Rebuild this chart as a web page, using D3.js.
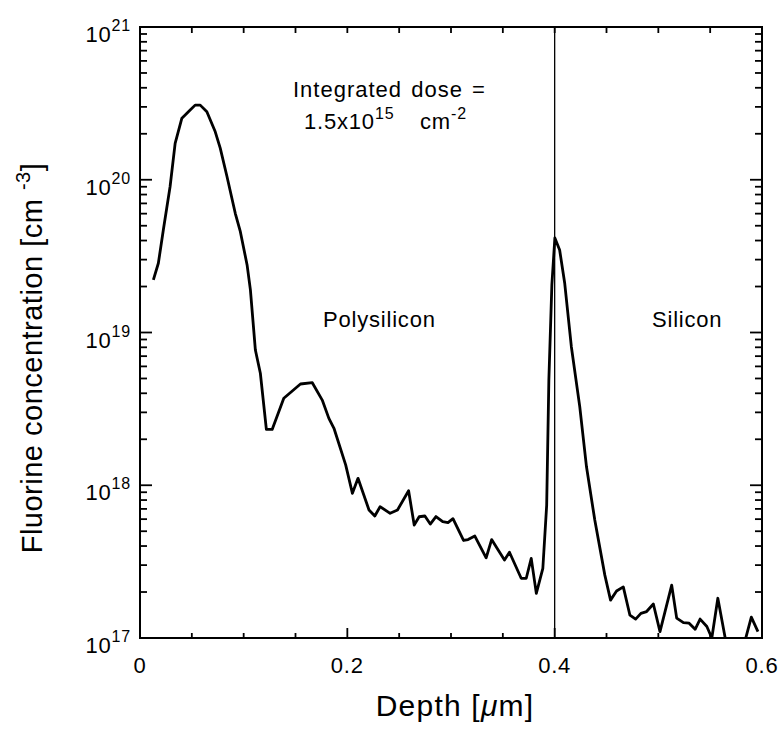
<!DOCTYPE html>
<html>
<head>
<meta charset="utf-8">
<script src="https://cdn.jsdelivr.net/npm/d3@7"></script>
<style>
  body { margin: 0; background: #fff; }
  text { font-family: "Liberation Sans", Arial, Helvetica, sans-serif; fill: #000; }
</style>
</head>
<body>
<svg id="chart" width="783" height="729"></svg>
<script>
// SIMS fluorine depth profile through polysilicon into the silicon substrate
const depth = [
  0.0129,0.0177,0.0225,0.0290,0.0339,0.0404,0.0484,0.0532,0.0581,0.0645,
  0.0726,0.0774,0.0839,0.0919,0.0968,0.1033,0.1065,0.1113,0.1161,0.1219,
  0.1275,0.1387,0.1548,0.1662,0.1758,0.1822,0.1871,0.1984,0.2049,0.2103,
  0.2209,0.2265,0.2316,0.2413,0.2484,0.2591,0.2645,0.2693,0.2748,0.2800,
  0.2855,0.2920,0.2971,0.3019,0.3121,0.3165,0.3230,0.3339,0.3392,0.3455,
  0.3516,0.3564,0.3677,0.3726,0.3774,0.3823,0.3886,0.3923,0.3944,0.3973,
  0.4002,0.4048,0.4097,0.4161,0.4242,0.4307,0.4387,0.4484,0.4539,0.4597,
  0.4662,0.4726,0.4781,0.4832,0.4887,0.4952,0.5016,0.5129,0.5177,0.5242,
  0.5297,0.5355,0.5403,0.5468,0.5516,0.5574,0.5645,0.5710,0.5775,0.5840,
  0.5897,0.5961
];
const concentration = [
  2.21e19,2.84e19,4.69e19,9.0e19,1.73e20,2.53e20,2.86e20,3.08e20,3.08e20,2.79e20,
  2.06e20,1.61e20,1.05e20,6.03e19,4.57e19,2.77e19,1.90e19,7.68e18,5.41e18,2.32e18,
  2.32e18,3.71e18,4.60e18,4.69e18,3.61e18,2.74e18,2.36e18,1.36e18,8.85e17,1.11e18,
  6.89e17,6.29e17,7.24e17,6.55e17,6.89e17,9.21e17,5.49e17,6.22e17,6.29e17,5.57e17,
  6.24e17,5.77e17,5.69e17,6.04e17,4.35e17,4.41e17,4.65e17,3.35e17,4.41e17,3.77e17,
  3.24e17,3.64e17,2.46e17,2.46e17,3.32e17,1.96e17,2.86e17,7.42e17,4.89e18,2.05e19,
  4.16e19,3.47e19,2.10e19,8.07e18,3.27e18,1.32e18,5.92e17,2.58e17,1.77e17,2.03e17,
  2.16e17,1.41e17,1.33e17,1.45e17,1.49e17,1.67e17,1.10e17,2.22e17,1.35e17,1.26e17,
  1.25e17,1.14e17,1.33e17,1.19e17,1.0e17,1.82e17,1.0e17,8.0e16,8.5e16,9.8e16,
  1.37e17,1.10e17
];
const xMajorTicks = [0, 0.2, 0.4, 0.6];
const xMajorLabels = ["0", "0.2", "0.4", "0.6"];
const yDecades = [17, 18, 19, 20, 21];
const interfaceDepth = 0.4;

const plotLeft = 140, plotRight = 762, plotTop = 27, plotBottom = 638;

const svg = d3.select("#chart");
const x = d3.scaleLinear().domain([0, 0.6]).range([plotLeft, plotRight]);
const y = d3.scaleLog().domain([1e17, 1e21]).range([plotBottom, plotTop]);

// tick value sets: every 0.05 along depth, 1..9 per decade along concentration
const xAll = d3.range(1, 12).map(i => +(i * 0.05).toFixed(2));
const yTicks = [];
yDecades.slice(0, -1).forEach(d => {
  for (let m = 1; m <= 9; m++) yTicks.push({ v: m * Math.pow(10, d), major: m === 1 });
});

const ticks = svg.append("g");
function tickStyle(sel) { return sel.attr("stroke", "#000").attr("stroke-width", 1.8); }
// bottom (inward), longer at labelled values
ticks.selectAll("line.xb").data(xAll).join("line").attr("class", "xb")
  .attr("x1", d => x(d)).attr("x2", d => x(d))
  .attr("y1", plotBottom).attr("y2", d => plotBottom - (xMajorTicks.includes(d) ? 10 : 5))
  .call(tickStyle);
// top (inward)
ticks.selectAll("line.xt").data(xAll).join("line").attr("class", "xt")
  .attr("x1", d => x(d)).attr("x2", d => x(d))
  .attr("y1", plotTop).attr("y2", plotTop + 6)
  .call(tickStyle);
// left and right log ticks
ticks.selectAll("line.yl").data(yTicks).join("line").attr("class", "yl")
  .attr("y1", d => y(d.v)).attr("y2", d => y(d.v))
  .attr("x1", plotLeft).attr("x2", d => plotLeft + (d.major ? 12 : 7))
  .call(tickStyle);
ticks.selectAll("line.yr").data(yTicks).join("line").attr("class", "yr")
  .attr("y1", d => y(d.v)).attr("y2", d => y(d.v))
  .attr("x1", plotRight).attr("x2", d => plotRight - (d.major ? 12 : 7))
  .call(tickStyle);

// plot frame
svg.append("rect").attr("x", plotLeft).attr("y", plotTop)
  .attr("width", plotRight - plotLeft).attr("height", plotBottom - plotTop)
  .attr("fill", "none").attr("stroke", "#000").attr("stroke-width", 2);

// polysilicon / silicon interface
svg.append("line").attr("x1", x(interfaceDepth)).attr("x2", x(interfaceDepth))
  .attr("y1", y(1e21)).attr("y2", y(1e17)).attr("stroke", "#000").attr("stroke-width", 1.3);

// profile curve
svg.append("clipPath").attr("id", "plotClip").append("rect")
  .attr("x", plotLeft).attr("y", plotTop)
  .attr("width", plotRight - plotLeft).attr("height", plotBottom - plotTop);
const line = d3.line().x(d => x(d[0])).y(d => y(d[1]));
svg.append("path").datum(d3.zip(depth, concentration))
  .attr("clip-path", "url(#plotClip)")
  .attr("d", line).attr("fill", "none").attr("stroke", "#000")
  .attr("stroke-width", 2.8).attr("stroke-linejoin", "round");

// x tick labels
svg.append("g").selectAll("text").data(xMajorTicks).join("text")
  .attr("x", d => x(d)).attr("y", 673).attr("text-anchor", "middle")
  .attr("font-size", 22).attr("letter-spacing", 0.8)
  .text((d, i) => xMajorLabels[i]);

// y tick labels: 10^n
const yl = svg.append("g").selectAll("text").data(yDecades).join("text")
  .attr("x", 131).attr("y", d => y(Math.pow(10, d)) + 15).attr("text-anchor", "end")
  .attr("font-size", 22).attr("letter-spacing", 0.8);
yl.append("tspan").text("10");
yl.append("tspan").attr("dy", -11).attr("font-size", 16).text(d => d);

// axis titles
const xt = svg.append("text").attr("x", 455).attr("y", 716).attr("text-anchor", "middle")
  .attr("font-size", 30).attr("letter-spacing", 1.2);
xt.append("tspan").text("Depth [");
xt.append("tspan").attr("font-style", "italic").text("\u03bc");
xt.append("tspan").text("m]");

const yt = svg.append("text").attr("transform", "translate(42,358) rotate(-90)")
  .attr("text-anchor", "middle").attr("font-size", 29).attr("letter-spacing", 0.5);
yt.append("tspan").text("Fluorine concentration [cm ");
yt.append("tspan").attr("dy", -12).attr("font-size", 20).text("-3");
yt.append("tspan").attr("dy", 12).text("]");

// annotations
svg.append("text").attr("x", 293).attr("y", 97).attr("font-size", 22)
  .attr("letter-spacing", 1).attr("word-spacing", 2)
  .text("Integrated dose =");
const dose = svg.append("text").attr("y", 129).attr("font-size", 22).attr("letter-spacing", 0.8);
dose.append("tspan").attr("x", 304).text("1.5x10");
dose.append("tspan").attr("x", 375).attr("dy", -10).attr("font-size", 16).text("15");
dose.append("tspan").attr("x", 420).attr("dy", 10).text("cm");
dose.append("tspan").attr("x", 451).attr("dy", -10).attr("font-size", 16).text("-2");

svg.append("text").attr("x", 323).attr("y", 327).attr("font-size", 22).attr("letter-spacing", 0.8).text("Polysilicon");
svg.append("text").attr("x", 652).attr("y", 327).attr("font-size", 22).attr("letter-spacing", 0.8).text("Silicon");
</script>
</body>
</html>
